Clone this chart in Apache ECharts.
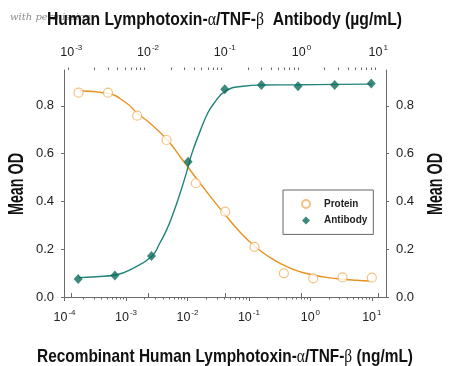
<!DOCTYPE html>
<html><head><meta charset="utf-8">
<script src="https://cdn.jsdelivr.net/npm/echarts@6/dist/echarts.min.js"></script>
<style>html,body{margin:0;padding:0;background:#fff}#c{width:450px;height:366px}</style>
</head><body><div id="c"></div>
<script>
// Recombinant protein (bottom axis, ng/mL)
const proteinConc = [0.000169, 0.000508, 0.00152, 0.00457, 0.0137, 0.0412, 0.123, 0.370, 1.11, 3.33, 10];
const proteinOD   = [0.855, 0.855, 0.759, 0.657, 0.476, 0.357, 0.210, 0.099, 0.078, 0.082, 0.081];
// Antibody (top axis, µg/mL)
const antibodyConc = [0.00123, 0.0037, 0.0111, 0.0333, 0.1, 0.3, 0.9, 2.7, 8.1];
const antibodyOD   = [0.075, 0.090, 0.172, 0.566, 0.869, 0.887, 0.882, 0.887, 0.894];
// Fitted curves
const proteinFitConc = [0.000174, 0.0005, 0.001, 0.00153, 0.00252, 0.00471, 0.00773, 0.0139, 0.0237, 0.0414, 0.0726, 0.127, 0.222, 0.365, 0.631, 1.12, 1.94, 3.43, 5.71, 9.29];
const proteinFitOD   = [0.863, 0.852, 0.813, 0.769, 0.725, 0.657, 0.585, 0.497, 0.420, 0.343, 0.270, 0.210, 0.165, 0.134, 0.108, 0.092, 0.081, 0.074, 0.070, 0.067];
const antibodyFitConc = [0.00125, 0.00212, 0.00376, 0.00637, 0.0113, 0.0142, 0.0174, 0.0210, 0.0259, 0.0310, 0.0372, 0.0472, 0.0600, 0.0720, 0.102, 0.173, 0.306, 0.914, 2.72, 8.18];
const antibodyFitOD   = [0.081, 0.085, 0.092, 0.120, 0.172, 0.225, 0.280, 0.345, 0.430, 0.510, 0.600, 0.690, 0.770, 0.810, 0.862, 0.882, 0.887, 0.888, 0.890, 0.891];
// Tick labels
const bottomMajor = [1e-4, 1e-3, 1e-2, 1e-1, 1, 10];
const topMajor = [1e-3, 1e-2, 1e-1, 1, 10];
const yTicks = [0, 0.2, 0.4, 0.6, 0.8];
// Texts
const topTitleParts = [['a', 'Human Lymphotoxin-'], ['g', 'α'], ['a', '/TNF-'], ['g', 'β'], ['a', '  Antibody (µg/mL)']];
const bottomTitleParts = [['a', 'Recombinant Human Lymphotoxin-'], ['g', 'α'], ['a', '/TNF-'], ['g', 'β'], ['a', ' (ng/mL)']];
const yTitle = 'Mean OD';

const FONT = '"Liberation Sans", Arial, sans-serif';
const SERIF = '"Liberation Serif", "DejaVu Serif", serif';
const ORANGE = '#E8921E', ORANGE_PT = '#F2B262', TEAL = '#22837A', TEAL_PT = '#0E6B5C', AX = '#6a6a6a';

const mctx = document.createElement('canvas').getContext('2d');
function measure(str, font) { mctx.font = font; return mctx.measureText(str).width; }
const TSIZE = 19;
const partFont = {a: 'bold ' + TSIZE + 'px ' + FONT, g: TSIZE + 'px ' + SERIF};
function partsWidth(parts) { return parts.reduce((s, p) => s + measure(p[1], partFont[p[0]]), 0); }
function partsRich(parts) { return parts.map(p => '{' + p[0] + '|' + p[1] + '}').join(''); }
const titleRich = {
  a: {fontFamily: FONT, fontSize: TSIZE, fontWeight: 'bold', fill: '#111'},
  g: {fontFamily: SERIF, fontSize: TSIZE, fill: '#111'}
};

function minorTicks(lo, hi) {
  const out = [];
  for (let e = lo; e <= hi; e++) for (let m = 2; m <= 9; m++) out.push(+(m * Math.pow(10, e)).toPrecision(3));
  return out;
}
function pow10Label(v) {
  const e = Math.round(Math.log10(v));
  return '{b|10}{s|' + e + '}';
}
const powRich = {
  b: {fontFamily: FONT, fontSize: 12.5, color: '#222', verticalAlign: 'bottom', lineHeight: 15},
  s: {fontFamily: FONT, fontSize: 8, color: '#222', verticalAlign: 'top', lineHeight: 15, padding: [0, 0, 0, 1]}
};
const BOTTOM_MIN = 0.98e-4, BOTTOM_MAX = 17.0, TOP_MIN = 8.04e-4, TOP_MAX = 12.6;

function xAxisMajor(pos, min, max, majors, margin) {
  return {
    type: 'log', position: pos, min: min, max: max,
    axisLine: {show: true, lineStyle: {color: AX, width: 1}},
    axisTick: {show: true, inside: false, length: 4, customValues: majors, lineStyle: {color: AX}},
    axisLabel: {customValues: majors, formatter: pow10Label, rich: powRich, margin: margin},
    splitLine: {show: false}, minorTick: {show: false}
  };
}
function xAxisMinor(pos, min, max, lo, hi) {
  return {
    type: 'log', position: pos, min: min, max: max,
    axisLine: {show: false},
    axisTick: {show: true, length: 2.5, customValues: minorTicks(lo, hi), lineStyle: {color: AX}},
    axisLabel: {show: false}, splitLine: {show: false}
  };
}
function yAxisDef(pos) {
  return {
    type: 'value', position: pos, min: 0, max: 0.95,
    axisLine: {show: true, lineStyle: {color: AX}},
    axisTick: {show: true, length: 3, customValues: yTicks, lineStyle: {color: AX}},
    axisLabel: {customValues: yTicks, formatter: v => v.toFixed(1), margin: 10,
      fontFamily: FONT, fontSize: 13, color: '#222'},
    splitLine: {show: false}
  };
}

const topW = partsWidth(topTitleParts), botW = partsWidth(bottomTitleParts);
const yFont = 'bold 22px ' + FONT;
const yW = measure(yTitle, yFont);

const chart = echarts.init(document.getElementById('c'), null, {renderer: 'canvas'});
chart.setOption({
  animation: false,
  backgroundColor: '#fff',
  grid: {left: 64, right: 64, top: 70, bottom: 69, containLabel: false, outerBoundsMode: 'none'},
  graphic: [
    {type: 'text', x: 10, y: 12, z: 1,
      style: {text: 'with permission', font: 'italic 10px "DejaVu Serif", serif', fill: '#8a8a8a'}},
    {type: 'text', x: 224.5, y: 20, z: 10, scaleX: 355 / topW,
      style: {text: partsRich(topTitleParts), rich: titleRich, align: 'center', verticalAlign: 'middle'}},
    {type: 'text', x: 225, y: 357, z: 10, scaleX: 376 / botW,
      style: {text: partsRich(bottomTitleParts), rich: titleRich, align: 'center', verticalAlign: 'middle'}},
    {type: 'text', x: 17, y: 184, rotation: Math.PI / 2, scaleX: 62 / yW, z: 10,
      style: {text: yTitle, font: yFont, fill: '#111', align: 'center', verticalAlign: 'middle'}},
    {type: 'text', x: 436, y: 184, rotation: Math.PI / 2, scaleX: 62 / yW, z: 10,
      style: {text: yTitle, font: yFont, fill: '#111', align: 'center', verticalAlign: 'middle'}}
  ],
  xAxis: [
    xAxisMajor('bottom', BOTTOM_MIN, BOTTOM_MAX, bottomMajor, 12),
    xAxisMajor('top', TOP_MIN, TOP_MAX, topMajor, 11),
    xAxisMinor('bottom', BOTTOM_MIN, BOTTOM_MAX, -4, 1),
    xAxisMinor('top', TOP_MIN, TOP_MAX, -4, 1)
  ],
  yAxis: [yAxisDef('left'), yAxisDef('right')],
  legend: {
    orient: 'vertical', left: 283, top: 190, padding: [8, 6, 8, 18], itemGap: 4.4,
    itemWidth: 8, itemHeight: 8, borderColor: '#666', borderWidth: 1, selectedMode: false,
    data: [{name: 'Protein', icon: 'circle'}, {name: 'Antibody', icon: 'diamond'}],
    textStyle: {fontFamily: FONT, fontSize: 10, fontWeight: 'bold', color: '#222', lineHeight: 12, padding: [0, 0, 0, 9]}
  },
  series: [
    {name: 'Protein fit', type: 'line', xAxisIndex: 0, yAxisIndex: 0, smooth: true, showSymbol: false,
      lineStyle: {color: ORANGE, width: 1.4}, itemStyle: {color: ORANGE}, z: 2,
      data: proteinFitConc.map((c, i) => [c, proteinFitOD[i]])},
    {name: 'Antibody fit', type: 'line', xAxisIndex: 1, yAxisIndex: 0, smooth: true, showSymbol: false,
      lineStyle: {color: TEAL, width: 1.4}, itemStyle: {color: TEAL}, z: 2,
      data: antibodyFitConc.map((c, i) => [c, antibodyFitOD[i]])},
    {name: 'Protein', type: 'scatter', xAxisIndex: 0, yAxisIndex: 0, symbol: 'circle', symbolSize: 9, z: 3,
      itemStyle: {color: '#fff', borderColor: ORANGE_PT, borderWidth: 1.2},
      data: proteinConc.map((c, i) => [c, proteinOD[i]])},
    {name: 'Antibody', type: 'scatter', xAxisIndex: 1, yAxisIndex: 0, symbol: 'diamond', symbolSize: [9, 10], z: 3,
      itemStyle: {color: TEAL_PT},
      data: antibodyConc.map((c, i) => [c, antibodyOD[i]])}
  ]
});
</script>
</body></html>
